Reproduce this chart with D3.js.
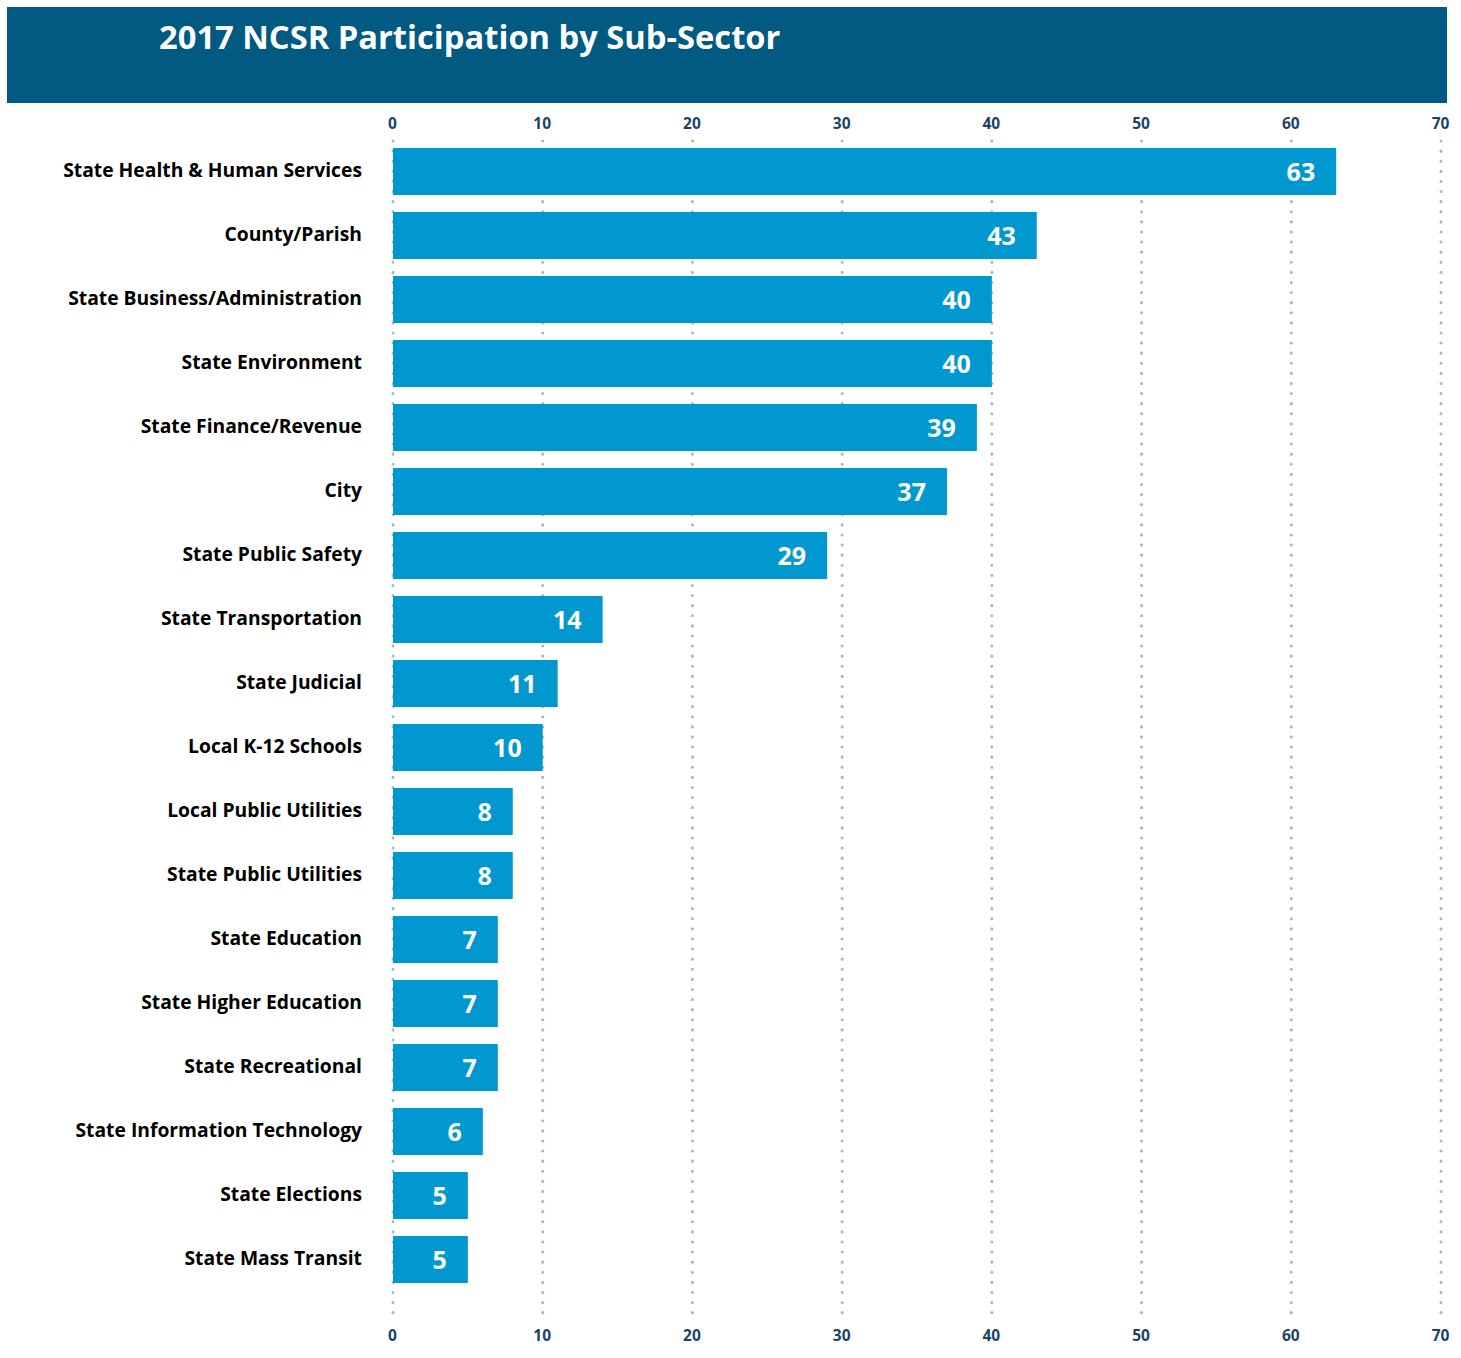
<!DOCTYPE html>
<html>
<head>
<meta charset="utf-8">
<script src="https://cdn.jsdelivr.net/npm/d3@7"></script>
<style>
  body { margin: 0; background: #fff; }
  svg { display: block; font-family: "Open Sans", "Noto Sans", sans-serif; }
</style>
</head>
<body>
<div class="graph"></div>
<script>
// donnees
const categories = [
    "State Health & Human Services", "County/Parish", "State Business/Administration",
    "State Environment", "State Finance/Revenue", "City", "State Public Safety",
    "State Transportation", "State Judicial", "Local K-12 Schools", "Local Public Utilities",
    "State Public Utilities", "State Education", "State Higher Education", "State Recreational",
    "State Information Technology", "State Elections", "State Mass Transit"
];
const values = [63, 43, 40, 40, 39, 37, 29, 14, 11, 10, 8, 8, 7, 7, 7, 6, 5, 5];
const tickValues = [0, 10, 20, 30, 40, 50, 60, 70];
const title = "2017 NCSR Participation by Sub-Sector";

const width = 1461, height = 1358;

const svg = d3.select(".graph").append("svg")
    .attr("width", width)
    .attr("height", height);

// bandeau titre
svg.append("rect")
    .attr("x", 7).attr("y", 7)
    .attr("width", 1440).attr("height", 96)
    .attr("fill", "#005a82");

svg.append("text")
    .text(title)
    .attr("x", 159).attr("y", 49)
    .attr("fill", "#fff")
    .style("font-size", "32.7px")
    .style("font-weight", "700");

// echelles
const x = d3.scaleLinear()
    .domain([0, 70])
    .range([393, 1441]);

// pas de 64px, barres de 47px
const y = d3.scaleBand()
    .domain(categories)
    .range([148, 148 + 64 * (categories.length - 1) + 47])
    .paddingInner(17 / 64)
    .paddingOuter(0);

// grille pointillee
svg.append("g")
    .selectAll("line")
    .data(tickValues)
    .join("line")
    .attr("x1", d => x(d)).attr("x2", d => x(d))
    .attr("y1", 141).attr("y2", 1315)
    .attr("stroke", "#b3b3b3")
    .attr("stroke-width", 3)
    .attr("stroke-linecap", "round")
    .attr("stroke-dasharray", "0.1 10");

// axes haut et bas
function styleAxis(g) {
    g.select(".domain").remove();
    g.selectAll(".tick line").remove();
    g.selectAll(".tick text")
        .attr("fill", "#1a4466")
        .style("font-size", "15.5px")
        .style("font-weight", "700")
        .style("font-family", "'Open Sans', sans-serif");
}

svg.append("g")
    .attr("transform", "translate(-1,129)")
    .call(d3.axisTop(x).tickValues(tickValues).tickSize(0).tickPadding(0))
    .call(styleAxis);

svg.append("g")
    .attr("transform", "translate(-1,1330)")
    .call(d3.axisBottom(x).tickValues(tickValues).tickSize(0).tickPadding(0))
    .call(styleAxis);

// barres
svg.append("g")
    .selectAll("rect")
    .data(values)
    .join("rect")
    .attr("x", x(0))
    .attr("y", (d, i) => y(categories[i]))
    .attr("width", d => x(d) - x(0))
    .attr("height", y.bandwidth())
    .attr("fill", "#0098ce");

// etiquettes valeurs
svg.append("g")
    .selectAll("text")
    .data(values)
    .join("text")
    .text(d => d)
    .attr("x", d => x(d) - 21)
    .attr("y", (d, i) => y(categories[i]) + y.bandwidth() / 2 + 9)
    .attr("text-anchor", "end")
    .attr("fill", "#fff")
    .style("font-size", "25px")
    .style("font-weight", "700");

// etiquettes categories
svg.append("g")
    .selectAll("text")
    .data(categories)
    .join("text")
    .text(d => d)
    .attr("x", 362)
    .attr("y", d => y(d) + y.bandwidth() / 2 + 5)
    .attr("text-anchor", "end")
    .attr("fill", "#000")
    .style("font-size", "19.3px")
    .style("font-weight", "700");
</script>
</body>
</html>
